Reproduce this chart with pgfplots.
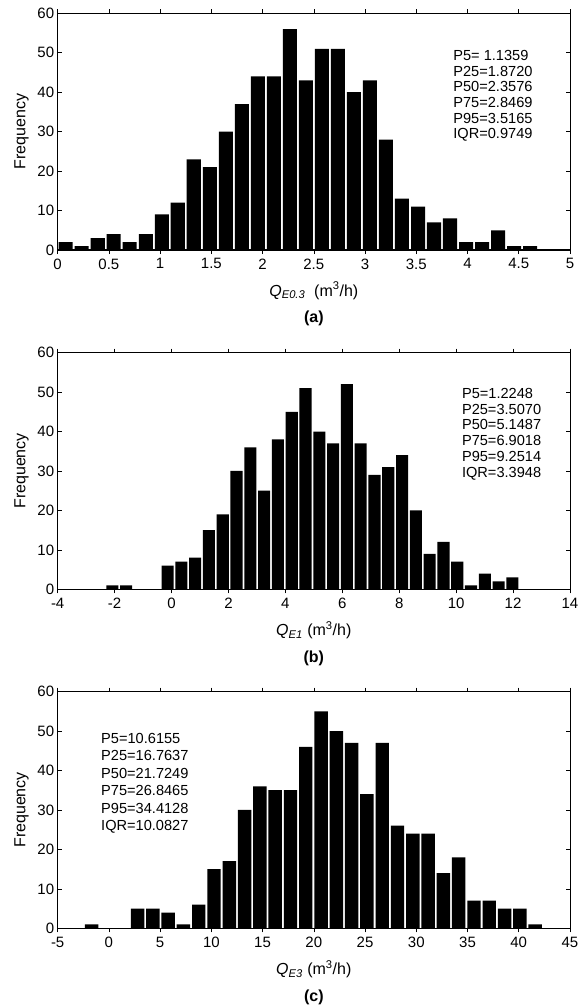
\documentclass[border=0pt]{standalone}
\usepackage{fontspec}
\setmainfont{Liberation Sans}
\usepackage{pgfplots}
\pgfplotsset{compat=1.18}

% histogram counts, one table per panel (bin centre, count)
\pgfplotstableread{
x c
0.078 2
0.234 1
0.391 3
0.547 4
0.703 2
0.860 4
1.016 9
1.172 12
1.328 23
1.485 21
1.641 30
1.797 37
1.954 44
2.110 44
2.266 56
2.423 43
2.579 51
2.735 51
2.891 40
3.048 43
3.204 28
3.360 13
3.517 11
3.673 7
3.829 8
3.986 2
4.142 2
4.298 5
4.455 1
4.611 1
}\histA
\pgfplotstableread{
x c
-2.078 1
-1.593 1
-1.109 0
-0.624 0
-0.139 6
0.346 7
0.830 8
1.315 15
1.800 19
2.284 30
2.769 36
3.254 25
3.738 38
4.223 45
4.708 51
5.193 40
5.677 37
6.162 52
6.647 37
7.131 29
7.616 31
8.101 34
8.585 20
9.070 9
9.555 12
10.040 7
10.524 1
11.009 4
11.494 2
11.978 3
}\histB
\pgfplotstableread{
x c
-1.680 1
-0.188 0
1.305 0
2.798 5
4.290 5
5.783 4
7.275 1
8.768 6
10.260 15
11.753 17
13.245 30
14.738 36
16.230 35
17.723 35
19.215 46
20.708 55
22.200 50
23.693 47
25.185 34
26.678 47
28.170 26
29.663 24
31.155 24
32.648 14
34.140 18
35.633 7
37.125 7
38.618 5
40.110 5
41.603 1
}\histC

\pgfplotsset{
  histpanel/.style={
    scale only axis, width=512.3pt, height=236.7pt, clip=false,
    ymin=0, ymax=60, ytick={0,10,...,60},
    tick align=inside, tick pos=both, major tick length=4pt,
    axis line style={line width=0.8pt}, tick style={line width=0.6pt, black},
    /pgf/number format/assume math mode=true,
    tick label style={font=\fontsize{15}{17}\selectfont},
    x tick label style={yshift=-1pt},
    label style={font=\fontsize{16}{18}\selectfont},
    ylabel={Frequency},
    ylabel style={at={(axis description cs:-0.0703,0.5)}, anchor=center},
    xlabel style={at={(axis description cs:0.5,-0.195)}, anchor=base},
    ybar,
  },
}

\begin{document}
\begin{tikzpicture}
% (a)
\begin{axis}[histpanel, at={(0,0)}, anchor=south west,
  xmin=0, xmax=5, xtick={0,0.5,...,5},
  xlabel={\textit{Q}\textsubscript{\textit{E0.3}}\ \ (m\textsuperscript{3}/h)}]
\addplot[fill=black, draw=none, bar width=0.137] table[x=x, y=c] {\histA};
\draw[line width=1.4pt] (rel axis cs:0,0) -- (rel axis cs:1,0);
\node[anchor=north west, inner sep=0, align=left, font=\fontsize{14.6}{15.7}\selectfont]
  at (axis cs:3.86,50.7) {P5= 1.1359\\P25=1.8720\\P50=2.3576\\P75=2.8469\\P95=3.5165\\IQR=0.9749};
\node[anchor=base, font=\fontsize{16}{18}\selectfont\bfseries] at (rel axis cs:0.5,-0.308) {(a)};
\end{axis}
% (b)
\begin{axis}[histpanel, at={(0,-339.3pt)}, anchor=south west,
  xmin=-4, xmax=14, xtick={-4,-2,...,14},
  xlabel={\textit{Q}\textsubscript{\textit{E1}} (m\textsuperscript{3}/h)}]
\addplot[fill=black, draw=none, bar width=0.425] table[x=x, y=c] {\histB};
\draw[line width=1.4pt] (rel axis cs:0,0) -- (rel axis cs:1,0);
\node[anchor=north west, inner sep=0, align=left, font=\fontsize{14.6}{15.7}\selectfont]
  at (axis cs:10.2,51.0) {P5=1.2248\\P25=3.5070\\P50=5.1487\\P75=6.9018\\P95=9.2514\\IQR=3.3948};
\node[anchor=base, font=\fontsize{16}{18}\selectfont\bfseries] at (rel axis cs:0.5,-0.308) {(b)};
\end{axis}
% (c)
\begin{axis}[histpanel, at={(0,-678.3pt)}, anchor=south west,
  xmin=-5, xmax=45, xtick={-5,0,...,45},
  xlabel={\textit{Q}\textsubscript{\textit{E3}} (m\textsuperscript{3}/h)}]
\addplot[fill=black, draw=none, bar width=1.31] table[x=x, y=c] {\histC};
\draw[line width=1.4pt] (rel axis cs:0,0) -- (rel axis cs:1,0);
\node[anchor=north west, inner sep=0, align=left, font=\fontsize{14.6}{17.5}\selectfont]
  at (axis cs:-0.77,49.5) {P5=10.6155\\P25=16.7637\\P50=21.7249\\P75=26.8465\\P95=34.4128\\IQR=10.0827};
\node[anchor=base, font=\fontsize{16}{18}\selectfont\bfseries] at (rel axis cs:0.5,-0.308) {(c)};
\end{axis}
\pgfresetboundingbox
\path (-57.67pt,250pt) rectangle (528.33pt,-757pt);
\end{tikzpicture}
\end{document}
